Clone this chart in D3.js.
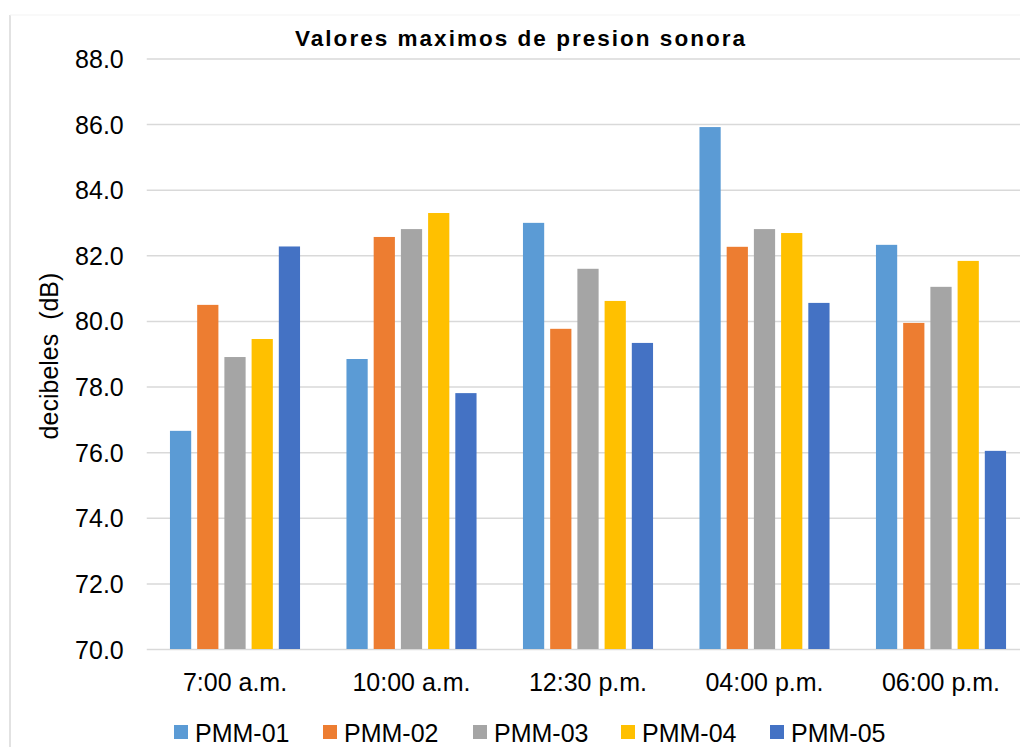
<!DOCTYPE html>
<html>
<head>
<meta charset="utf-8">
<script src="https://cdn.jsdelivr.net/npm/d3@7"></script>
<style>
  html, body { margin: 0; padding: 0; background: #fff; }
  svg { display: block; font-family: "Liberation Sans", Arial, sans-serif; }
</style>
</head>
<body>
<svg id="chart" width="1020" height="747"></svg>
<script>
// Horarios de medición
const categories = ["7:00 a.m.", "10:00 a.m.", "12:30 p.m.", "04:00 p.m.", "06:00 p.m."];
// Puntos de medición
const seriesNames = ["PMM-01", "PMM-02", "PMM-03", "PMM-04", "PMM-05"];
const seriesColors = ["#5B9BD5", "#ED7D31", "#A5A5A5", "#FFC000", "#4472C4"];
// Valores máximos (dB) por punto, en el orden de las horas
const pmm01 = [76.65, 78.84, 82.99, 85.91, 82.32];
const pmm02 = [80.49, 82.56, 79.76, 82.26, 79.94];
const pmm03 = [78.90, 82.80, 81.59, 82.80, 81.04];
const pmm04 = [79.45, 83.29, 80.61, 82.68, 81.83];
const pmm05 = [82.27, 77.80, 79.33, 80.55, 76.04];
const yTicks = [70, 72, 74, 76, 78, 80, 82, 84, 86, 88];

const seriesValues = [pmm01, pmm02, pmm03, pmm04, pmm05];
const rows = categories.map((c, i) => ({
  category: c,
  values: seriesNames.map((s, j) => ({ series: s, value: seriesValues[j][i], color: seriesColors[j] }))
}));

const svg = d3.select("#chart");

const plot = { left: 146.75, right: 1029.25, top: 58.5, bottom: 649 };

const x0 = d3.scaleBand().domain(categories).range([plot.left, plot.right])
  .paddingInner(0.263).paddingOuter(0.1315);
const x1 = d3.scaleBand().domain(seriesNames).range([0, x0.bandwidth()])
  .paddingInner(0.22).paddingOuter(0);
const y = d3.scaleLinear().domain([70, 88]).range([plot.bottom, plot.top]);

// Chart frame (left edge)
svg.append("line").attr("x1", 10).attr("x2", 10).attr("y1", 15).attr("y2", 747)
  .attr("stroke", "#d9d9d9").attr("stroke-width", 1.5);
svg.append("line").attr("x1", 10).attr("x2", 1020).attr("y1", 15).attr("y2", 15)
  .attr("stroke", "#f3f3f3").attr("stroke-width", 1);

// Gridlines and value labels
const yAxis = d3.axisLeft(y).tickValues(yTicks).tickFormat(d3.format(".1f"))
  .tickSize(-(plot.right - plot.left)).tickPadding(23);
const gy = svg.append("g").attr("transform", `translate(${plot.left},0)`).call(yAxis);
gy.select(".domain").remove();
gy.selectAll(".tick line").attr("stroke", "#d9d9d9").attr("stroke-width", 1.5);
gy.selectAll(".tick text").attr("fill", "#000").attr("font-size", 25)
  .attr("font-family", "'Liberation Sans', Arial, sans-serif").attr("dy", "0.36em");

// Bars
const groups = svg.append("g").selectAll("g").data(rows).join("g")
  .attr("transform", d => `translate(${x0(d.category)},0)`);
groups.selectAll("rect").data(d => d.values).join("rect")
  .attr("x", d => x1(d.series))
  .attr("width", x1.bandwidth())
  .attr("y", d => y(d.value))
  .attr("height", d => y(70) - y(d.value))
  .attr("fill", d => d.color);

// Category axis labels
const xAxis = d3.axisBottom(x0).tickSize(0).tickPadding(24);
const gx = svg.append("g").attr("transform", `translate(0,${plot.bottom})`).call(xAxis);
gx.select(".domain").remove();
gx.selectAll(".tick text").attr("fill", "#000").attr("font-size", 25)
  .attr("font-family", "'Liberation Sans', Arial, sans-serif");

// Title
svg.append("text").attr("x", 520).attr("y", 46).attr("text-anchor", "middle")
  .attr("font-size", 22.5).attr("font-weight", "bold").attr("fill", "#000")
  .attr("textLength", 450).attr("lengthAdjust", "spacing")
  .text("Valores maximos de presion sonora");

// Y axis title
svg.append("text").attr("transform", "translate(58,356) rotate(-90)")
  .attr("text-anchor", "middle").attr("font-size", 25).attr("fill", "#000")
  .attr("xml:space", "preserve")
  .text("decibeles  (dB)");

// Legend
const legendX = [174, 323, 473, 621, 770];
const legend = svg.append("g").selectAll("g").data(seriesNames).join("g")
  .attr("transform", (d, i) => `translate(${legendX[i]},725)`);
legend.append("rect").attr("width", 14).attr("height", 14)
  .attr("fill", (d, i) => seriesColors[i]);
legend.append("text").attr("x", 21).attr("y", 17).attr("font-size", 25)
  .attr("fill", "#000").text(d => d);
</script>
</body>
</html>
